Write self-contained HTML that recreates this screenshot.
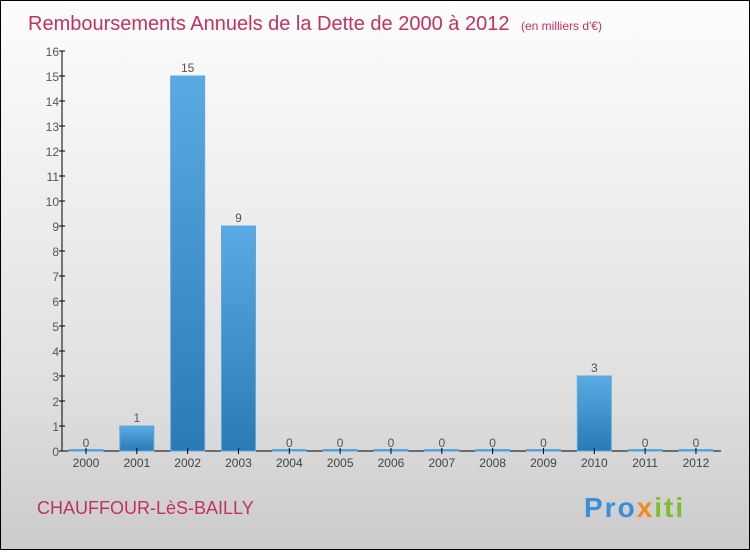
<!DOCTYPE html>
<html><head><meta charset="utf-8"><style>
body{margin:0;width:750px;height:550px;overflow:hidden;font-family:"Liberation Sans",sans-serif}
#c{position:absolute;left:0;top:0;width:748px;height:548px;border:1px solid #000;background:linear-gradient(#fdfdfd,#e0e0e0 70%,#cbcbcb)}
</style></head><body>
<div id="c">
<svg width="750" height="550">
<defs><linearGradient id="g" x1="0" y1="0" x2="0" y2="1"><stop offset="0" stop-color="#5aaae3"/><stop offset="1" stop-color="#2a7ab6"/></linearGradient></defs>
<text x="27" y="29" font-size="20" fill="#c4305f">Remboursements Annuels de la Dette de 2000 à 2012 <tspan font-size="12" dx="6">(en milliers d'€)</tspan></text>
<g id="plot"></g>
<text x="36" y="513" font-size="18" fill="#c4305f">CHAUFFOUR-LèS-BAILLY</text>
<text x="583" y="516" font-size="28" font-weight="bold" letter-spacing="2" fill="#3a8fd8">Pro<tspan fill="#f08a1c">x</tspan><tspan fill="#7cbf2a">iti</tspan></text>
</svg></div>
<script>
const categories=["2000","2001","2002","2003","2004","2005","2006","2007","2008","2009","2010","2011","2012"];
const values=[0,1,15,9,0,0,0,0,0,0,3,0,0];
const yTicks=[0,1,2,3,4,5,6,7,8,9,10,11,12,13,14,15,16];
const NS="http://www.w3.org/2000/svg",g=document.getElementById('plot');
const y=v=>450-v*25,x=i=>85+i*50.83;
function el(t,a,txt){const e=document.createElementNS(NS,t);for(const k in a)e.setAttribute(k,a[k]);if(txt!==undefined)e.textContent=txt;g.appendChild(e);return e;}
let ax=el('line',{x1:61,y1:50,x2:61,y2:450,stroke:'#000'});

let bx=el('line',{x1:58,y1:450,x2:720,y2:450,stroke:'#000'});

yTicks.forEach(v=>{
 let t=el('line',{x1:58,y1:y(v),x2:64,y2:y(v),stroke:'#000'});
 
 let l=el('text',{x:58,y:y(v)+5,'font-size':12,fill:'#555','text-anchor':'end'},v);
 
});
categories.forEach((c,i)=>{
 const v=values[i],h=Math.max(v*25,1.5);
 let r=el('rect',{x:x(i)-17,y:450-h,width:34,height:h,fill:'url(#g)',stroke:'#5aaae3'});
 
 let vl=el('text',{x:x(i),y:y(v)-4,'font-size':12,fill:'#555','text-anchor':'middle'},v);
 
 let t=el('line',{x1:x(i),y1:447,x2:x(i),y2:453,stroke:'#000'});
 
 let xl=el('text',{x:x(i),y:466,'font-size':12,fill:'#444','text-anchor':'middle'},c);
 
});
</script>
</body></html>
